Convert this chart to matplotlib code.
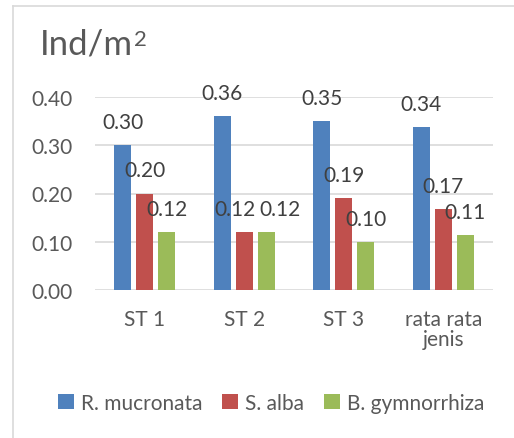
import matplotlib.pyplot as plt
import numpy as np
from matplotlib.lines import Line2D

# kepadatan mangrove per stasiun (Ind/m2)
stations = ["ST 1", "ST 2", "ST 3", "rata rata\njenis"]
species = ["R. mucronata", "S. alba", "B. gymnorrhiza"]
r_mucronata = [0.30, 0.36, 0.35, 0.337]
s_alba = [0.20, 0.12, 0.19, 0.168]
b_gymnorrhiza = [0.12, 0.12, 0.10, 0.113]
yticks = [0.00, 0.10, 0.20, 0.30, 0.40]

colors = ["#4F81BD", "#C0504D", "#9BBB59"]
text_color = "#595959"
grid_color = "#D9D9D9"

# geser label yang bertumpuk di ST 2 (piksel)
label_shift = {(1, 1): -9, (2, 1): 14}

plt.rcParams["font.family"] = ["Lato", "DejaVu Sans"]

fig = plt.figure(figsize=(5.14, 4.39), dpi=100)
ax = fig.add_axes([95 / 514, 1 - 291 / 439, (493 - 95) / 514, (291 - 98) / 439])

x = np.arange(len(stations))
width = 0.171
offset = 0.221
for i, (vals, name) in enumerate(zip([r_mucronata, s_alba, b_gymnorrhiza], species)):
    pos = x + (i - 1) * offset
    ax.bar(pos, vals, width, color=colors[i], label=name, zorder=3)
    for j, (px, v) in enumerate(zip(pos, vals)):
        dx = label_shift.get((i, j), 0)
        ax.annotate(f"{v:.2f}", (px, v), xytext=(dx, 23), textcoords="offset pixels",
                    ha="center", va="center", fontsize=15, color="#404040", zorder=4)

ax.set_xlim(-0.5, len(stations) - 0.5)
ax.set_ylim(0, 0.40)
ax.set_yticks(yticks)
ax.set_yticklabels([f"{t:.2f}" for t in yticks])
ax.set_xticks(x)
ax.set_xticklabels(stations, linespacing=0.95)
ax.tick_params(axis="both", length=0, labelsize=15, labelcolor=text_color)
ax.tick_params(axis="y", pad=16)
ax.tick_params(axis="x", pad=14)
ax.yaxis.grid(True, color=grid_color, linewidth=1.2, zorder=0)
for side in ["top", "right", "left", "bottom"]:
    ax.spines[side].set_visible(False)
ax.patch.set_alpha(0)

# judul satuan di pojok kiri atas, pangkat 2 ditulis terpisah
title = fig.text(40 / 514, 1 - 45 / 439, "Ind/m", fontsize=25, color=text_color,
                 ha="left", va="center")
renderer = fig.canvas.get_renderer()
bb = title.get_window_extent(renderer)
fig.text((bb.x1 + 0.5) / 514, 1 - 40 / 439, "2", fontsize=16, color=text_color,
         ha="left", va="center")

fig.legend(loc="center", bbox_to_anchor=(0.528, 1 - 404 / 439), ncol=3,
           frameon=False, fontsize=15, labelcolor=text_color,
           handlelength=0.75, handleheight=0.75, handletextpad=0.35, columnspacing=0.95)

# bingkai area grafik
fig.add_artist(Line2D([13 / 514, 1], [1 - 7 / 439, 1 - 7 / 439], color=grid_color,
                      linewidth=1.2, transform=fig.transFigure))
fig.add_artist(Line2D([13 / 514, 13 / 514], [0, 1 - 7 / 439], color=grid_color,
                      linewidth=1.2, transform=fig.transFigure))

fig.savefig("out.png", dpi=100)
